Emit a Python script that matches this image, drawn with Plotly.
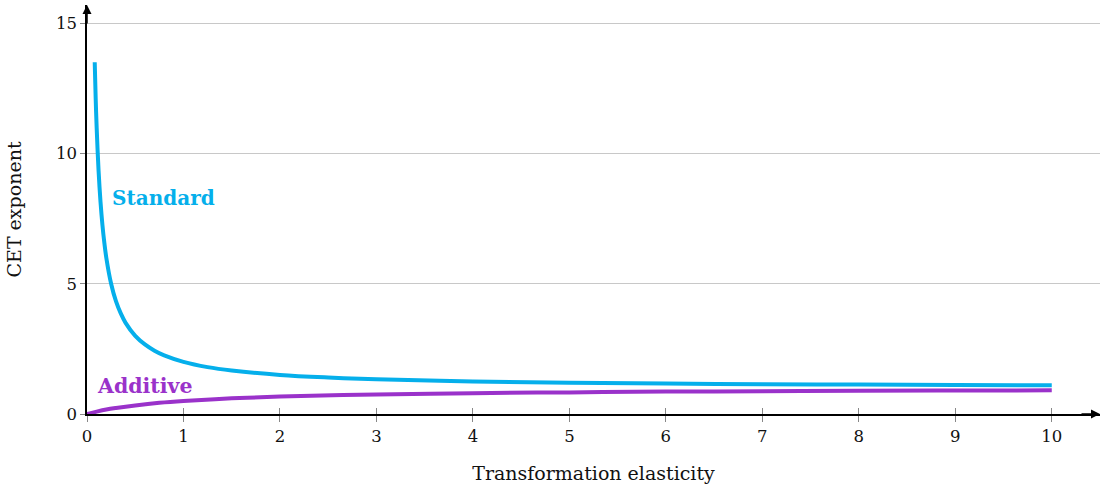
import plotly.graph_objects as go

# Data
std_x = [0.08, 0.09, 0.1, 0.12, 0.14, 0.16, 0.18, 0.2, 0.25, 0.3, 0.35, 0.4, 0.5, 0.6, 0.7, 0.8, 1.0,
         1.25, 1.5, 2.0, 2.5, 3.0, 4.0, 5.0, 6.0, 7.0, 8.0, 9.0, 10.0]
std_y = [13.5, 12.11, 11.0, 9.33, 8.14, 7.25, 6.56, 6.0, 5.0, 4.33, 3.86, 3.5, 3.0, 2.67, 2.43, 2.25, 2.0,
         1.8, 1.67, 1.5, 1.4, 1.33, 1.25, 1.2, 1.17, 1.14, 1.13, 1.11, 1.1]
add_x = [0.0, 0.1, 0.2, 0.3, 0.5, 0.75, 1.0, 1.5, 2.0, 3.0, 4.0, 5.0, 6.0, 7.0, 8.0, 9.0, 10.0]
add_y = [0.0, 0.09, 0.17, 0.23, 0.33, 0.43, 0.5, 0.6, 0.67, 0.75, 0.8, 0.83, 0.86, 0.875, 0.89, 0.9, 0.91]
x_ticks = [0, 1, 2, 3, 4, 5, 6, 7, 8, 9, 10]
y_ticks = [0, 5, 10, 15]

CYAN = "#05AFEB"
PURPLE = "#9A32CA"
FONT = "DejaVu Serif"

fig = go.Figure()
fig.add_trace(go.Scatter(x=std_x, y=std_y, mode="lines", line=dict(color=CYAN, width=4, shape="spline"),
                         showlegend=False, hoverinfo="skip"))
fig.add_trace(go.Scatter(x=add_x, y=add_y, mode="lines", line=dict(color=PURPLE, width=4, shape="spline"),
                         showlegend=False, hoverinfo="skip"))
# invisible trace for inside ticks on x axis
fig.add_trace(go.Scatter(x=[0], y=[0], xaxis="x2", mode="markers", marker=dict(opacity=0),
                         showlegend=False, hoverinfo="skip"))

XR = [0, 10.5]
YR = [0, 15.7]
fig.update_layout(
    width=1102, height=485,
    margin=dict(l=87, r=2, t=5, b=71),
    paper_bgcolor="white", plot_bgcolor="white",
    font=dict(family=FONT, size=16.5, color="#111"),
    xaxis=dict(range=XR, tickvals=x_ticks, showgrid=False, zeroline=False,
               showline=True, linecolor="black", linewidth=1.5,
               ticks="outside", ticklen=6, tickcolor="#888", tickwidth=1,
               title=dict(text="Transformation elasticity", font=dict(size=19), standoff=22)),
    xaxis2=dict(range=XR, overlaying="x", side="bottom", tickvals=x_ticks, showticklabels=False,
                showgrid=False, zeroline=False, ticks="inside", ticklen=6, tickcolor="#888", tickwidth=1),
    yaxis=dict(range=YR, tickvals=y_ticks, showgrid=True, gridcolor="#c8c8c8", gridwidth=1, zeroline=False,
               showline=True, linecolor="black", linewidth=1.5,
               ticks="outside", ticklen=5, tickcolor="#888", tickwidth=1,
               title=dict(text="CET exponent", font=dict(size=19), standoff=29)),
    annotations=[
        dict(x=10.5, y=0, xref="x", yref="y", ax=-20, ay=0, text="", showarrow=True,
             arrowhead=2, arrowsize=1.2, arrowwidth=1.5, arrowcolor="black"),
        dict(x=0, y=15.7, xref="x", yref="y", ax=0, ay=20, text="", showarrow=True,
             arrowhead=2, arrowsize=1.2, arrowwidth=1.5, arrowcolor="black"),
        dict(x=0.79, y=8.29, xref="x", yref="y", text="<b>Standard</b>", showarrow=False,
             font=dict(color=CYAN, size=20, family=FONT)),
        dict(x=0.6, y=1.07, xref="x", yref="y", text="<b>Additive</b>", showarrow=False,
             font=dict(color=PURPLE, size=20.5, family=FONT)),
    ],
)
fig.write_html("out.html")
